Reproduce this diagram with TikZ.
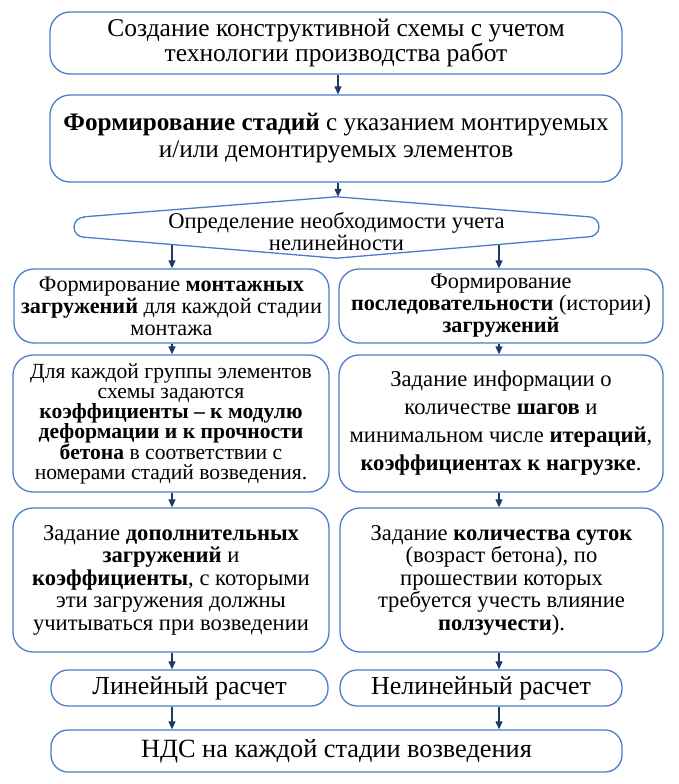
\documentclass[tikz,border=0pt]{standalone}
\usepackage{fontspec}
\setmainfont{Liberation Serif}
\usetikzlibrary{arrows.meta}
\definecolor{boxblue}{HTML}{4A7EC8}
\definecolor{arrowblue}{HTML}{1F3864}
\begin{document}
\begin{tikzpicture}[
        x=1pt, y=1pt,
        block/.style={draw=boxblue, line width=1.3pt, rounded corners=20pt, align=center, inner sep=0pt},
        pill/.style={block, rounded corners=17pt},
        forward/.style={draw=arrowblue, line width=1.2pt, -{Triangle[length=8pt,width=7pt]}},
        mid/.style={font=\fontsize{22.2}{22}\selectfont},
        five/.style={font=\fontsize{22.6}{22.5}\selectfont},
        calc/.style={font=\fontsize{26}{26}\selectfont}
    ]
        \useasboundingbox (0,0) rectangle (678,-784);
        \coordinate (colL) at (172,0);
        \coordinate (colR) at (499,0);
        \node[block, minimum width=572, minimum height=62, font=\fontsize{25.5}{25}\selectfont] (create) at (336,-43) {Создание конструктивной схемы с учетом\\технологии производства работ};
        \node[block, minimum width=572, minimum height=87, font=\fontsize{25.2}{27}\selectfont] (stages) at (336,-138.5) {\textbf{Формирование стадий} с указанием монтируемых\\и/или демонтируемых элементов};
        \node[align=center, inner sep=0pt, minimum width=525, minimum height=69, font=\fontsize{22.5}{21.5}\selectfont] (diam) at (336.5,-231.5) {Определение необходимости учета\\нелинейности};
        \draw[draw=boxblue, line width=1.3pt] ([xshift=-252.5pt,yshift=-20pt]diam.north) -- (diam.north) -- ([xshift=252.5pt,yshift=-20pt]diam.north) arc (90:-90:10pt) -- ([yshift=8pt]diam.south) -- ([xshift=-252.5pt,yshift=29pt]diam.south) arc (270:90:10pt) -- cycle;
        \node[block, mid, minimum width=315, minimum height=74] (loadL) at (171.5,-306) {Формирование \textbf{монтажных}\\\textbf{загружений} для каждой стадии\\монтажа};
        \node[block, mid, minimum width=324, minimum height=74] (seqR) at (501,-306) {Формирование\\\textbf{последовательности} (истории)\\\textbf{загружений}};
        \node[block, minimum width=316, minimum height=137, font=\fontsize{21.6}{20}\selectfont] (coefL) at (171,-423.5) {Для каждой группы элементов\\схемы задаются\\\textbf{коэффициенты – к модулю}\\\textbf{деформации и к прочности}\\\textbf{бетона} в соответствии с\\номерами стадий возведения.};
        \node[block, minimum width=324, minimum height=137, font=\fontsize{22.6}{28}\selectfont] (stepsR) at (501,-423.5) {Задание информации о\\количестве \textbf{шагов} и\\минимальном числе \textbf{итераций},\\\textbf{коэффициентах к нагрузке}.};
        \node[block, five, minimum width=316, minimum height=144] (addL) at (171,-580) {Задание \textbf{дополнительных}\\\textbf{загружений} и\\\textbf{коэффициенты}, с которыми\\эти загружения должны\\учитываться при возведении};
        \node[block, five, minimum width=323, minimum height=144] (daysR) at (501.5,-580) {Задание \textbf{количества суток}\\(возраст бетона), по\\прошествии которых\\требуется учесть влияние\\\textbf{ползучести}).};
        \node[pill, calc, minimum width=277, minimum height=36] (linL) at (189.5,-688) {Линейный расчет};
        \node[pill, calc, minimum width=282, minimum height=36] (nonlinR) at (481,-688) {Нелинейный расчет};
        \node[pill, minimum width=571, minimum height=42, font=\fontsize{26.3}{26}\selectfont] (nds) at (336.5,-751) {НДС на каждой стадии возведения};
        \draw[forward] (create.south -| 338,0) -- (stages.north -| 338,0);
        \draw[forward] (stages.south -| 338,0) -- (diam.north -| 338,0);
        \draw[forward] ([xshift=-164.5pt,yshift=21.7pt]diam.south) -- (loadL.north -| colL);
        \draw[forward] ([xshift=162.5pt,yshift=21.5pt]diam.south) -- (seqR.north -| colR);
        \draw[forward] (loadL.south -| colL) -- (coefL.north -| colL);
        \draw[forward] (seqR.south -| colR) -- (stepsR.north -| colR);
        \draw[forward] (coefL.south -| colL) -- (addL.north -| colL);
        \draw[forward] (stepsR.south -| colR) -- (daysR.north -| colR);
        \draw[forward] (addL.south -| colL) -- (linL.north -| colL);
        \draw[forward] (daysR.south -| colR) -- (nonlinR.north -| colR);
        \draw[forward] (linL.south -| colL) -- (nds.north -| colL);
        \draw[forward] (nonlinR.south -| colR) -- (nds.north -| colR);
    \end{tikzpicture}
\end{document}
